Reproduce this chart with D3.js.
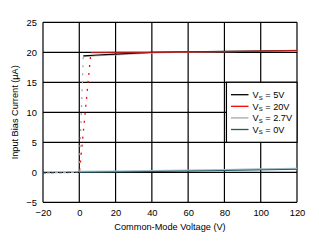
<!DOCTYPE html>
<html>
<head>
<meta charset="utf-8">
<script src="https://cdn.jsdelivr.net/npm/d3@7"></script>
<style>
  html, body { margin: 0; padding: 0; background: #fff; }
  svg { display: block; font-family: Arial, "Liberation Sans", sans-serif; }
</style>
</head>
<body>
<svg id="chart"></svg>
<script>
// ---- Data ----
const xTicks = [-20, 0, 20, 40, 60, 80, 100, 120];
const yTicks = [-5, 0, 5, 10, 15, 20, 25];

// Vs = 5V
const vs5X = [2.2, 10, 20, 30, 40, 60, 80, 100, 120];
const vs5Y = [19.4, 19.55, 19.7, 19.85, 19.98, 20.08, 20.15, 20.22, 20.3];
// Vs = 20V (plus the dotted rise from 0)
const vs20X = [6.4, 20, 40, 60, 80, 100, 120];
const vs20Y = [19.95, 19.97, 20.0, 20.05, 20.12, 20.2, 20.3];
const vs20RiseX = [0.2, 6.4];
const vs20RiseY = [0.3, 19.95];
// Vs = 2.7V (plus the dotted rise from 0)
const vs27X = [2.2, 10, 20, 30, 40, 60, 80, 100, 120];
const vs27Y = [19.3, 19.45, 19.6, 19.75, 19.92, 20.05, 20.12, 20.2, 20.28];
const vs27RiseX = [0, 2.2];
const vs27RiseY = [0.2, 19.3];
// Vs = 0V (dashed below 0 V)
const vs0X = [-20, -10, 0, 20, 40, 60, 80, 100, 120];
const vs0Y = [-0.1, -0.05, 0, 0.05, 0.12, 0.2, 0.3, 0.4, 0.5];

const legendLabels = ['5V', '20V', '2.7V', '0V'];
const legendColors = ['#000000', '#ff0000', '#a6a6a6', '#215968'];

// ---- Layout ----
const width = 319, height = 243;
const margin = { left: 43, right: 22, top: 22.3, bottom: 40.7 };

const svg = d3.select('#chart').attr('width', width).attr('height', height);

const x = d3.scaleLinear().domain([-20, 120]).range([margin.left, width - margin.right]);
const y = d3.scaleLinear().domain([-5, 25]).range([height - margin.bottom, margin.top]);

// ---- Grid ----
const grid = svg.append('g').attr('stroke', '#000').attr('stroke-width', 1.2);
grid.selectAll('.vx').data(xTicks).join('line')
  .attr('x1', d => x(d)).attr('x2', d => x(d))
  .attr('y1', y(-5)).attr('y2', y(25));
grid.selectAll('.hy').data(yTicks).join('line')
  .attr('y1', d => y(d)).attr('y2', d => y(d))
  .attr('x1', x(-20)).attr('x2', x(120));

// ---- Axes (labels only) ----
const xAxis = svg.append('g')
  .attr('transform', `translate(0,${y(-5)})`)
  .call(d3.axisBottom(x).tickValues(xTicks).tickSize(0).tickPadding(7));
const yAxis = svg.append('g')
  .attr('transform', `translate(${x(-20)},0)`)
  .call(d3.axisLeft(y).tickValues(yTicks).tickSize(0).tickPadding(6));
[xAxis, yAxis].forEach(a => {
  a.select('.domain').remove();
  a.selectAll('text').attr('font-size', 9.4).attr('fill', '#000')
    .attr('font-family', 'Arial, "Liberation Sans", sans-serif');
});

// ---- Legend box (white, over the grid) ----
const lg = svg.append('g');
lg.append('rect')
  .attr('x', x(80) + 2).attr('y', y(15))
  .attr('width', x(120) - x(80) - 2).attr('height', y(5) - y(15))
  .attr('fill', '#fff').attr('stroke', '#000').attr('stroke-width', 1.2);
const rows = lg.selectAll('g.row').data(legendLabels).join('g')
  .attr('transform', (d, i) => `translate(231,${94.7 + i * 11.6})`);
rows.append('line').attr('x1', 0).attr('x2', 17.5)
  .attr('stroke', (d, i) => legendColors[i]).attr('stroke-width', 1.3);
const lt = rows.append('text').attr('x', 21.5).attr('y', 3.3)
  .attr('font-size', 9.2).attr('fill', '#000');
lt.append('tspan').text('V');
lt.append('tspan').text('S').attr('font-size', 6).attr('dy', 1.5);
lt.append('tspan').text(d => ' = ' + d).attr('dy', -1.5);

// ---- Series ----
const line = d3.line().x(d => x(d[0])).y(d => y(d[1]));
const pts = (xs, ys) => xs.map((v, i) => [v, ys[i]]);

// 0V: dashed part below 0 V, solid above
const v0 = pts(vs0X, vs0Y);
svg.append('path').datum(v0.filter(d => d[0] <= 0)).attr('d', line)
  .attr('fill', 'none').attr('stroke', '#a6a6a6').attr('stroke-width', 1.3)
  .attr('stroke-dasharray', '3,5').attr('stroke-dashoffset', 4);
svg.append('path').datum(v0.filter(d => d[0] <= 0)).attr('d', line)
  .attr('fill', 'none').attr('stroke', '#215968').attr('stroke-width', 1.3)
  .attr('stroke-dasharray', '3,5');
svg.append('path').datum(v0.filter(d => d[0] >= 0)).attr('d', line)
  .attr('fill', 'none').attr('stroke', '#9fbcc4').attr('stroke-width', 1.6)
  .attr('transform', 'translate(0,-0.8)');
svg.append('path').datum(v0.filter(d => d[0] >= 0)).attr('d', line)
  .attr('fill', 'none').attr('stroke', '#215968').attr('stroke-width', 1);

// dotted rises
svg.append('path').datum(pts(vs27RiseX, vs27RiseY)).attr('d', line)
  .attr('fill', 'none').attr('stroke', '#a6a6a6').attr('stroke-width', 1.3)
  .attr('stroke-dasharray', '2,6');
svg.append('path').datum(pts(vs20RiseX, vs20RiseY)).attr('d', line)
  .attr('fill', 'none').attr('stroke', '#ff0000').attr('stroke-width', 1.3)
  .attr('stroke-dasharray', '2,6');

// upper branches
svg.append('path').datum(pts(vs27X, vs27Y)).attr('d', line)
  .attr('fill', 'none').attr('stroke', '#b8b8b8').attr('stroke-width', 1.4);
svg.append('path').datum(pts(vs5X, vs5Y)).attr('d', line)
  .attr('fill', 'none').attr('stroke', '#000').attr('stroke-width', 1.1);
svg.append('path').datum(pts(vs20X, vs20Y)).attr('d', line)
  .attr('fill', 'none').attr('stroke', '#d21f1f').attr('stroke-width', 1.3)
  .attr('opacity', 0.85);

// ---- Axis titles ----
svg.append('text')
  .attr('x', (x(-20) + x(120)) / 2).attr('y', 229.5)
  .attr('text-anchor', 'middle').attr('font-size', 9.2)
  .text('Common-Mode Voltage (V)');
svg.append('text')
  .attr('transform', `translate(18,${(y(-5) + y(25)) / 2}) rotate(-90)`)
  .attr('text-anchor', 'middle').attr('font-size', 9.2)
  .text('Input Bias Current (\u00b5A)');
</script>
</body>
</html>
